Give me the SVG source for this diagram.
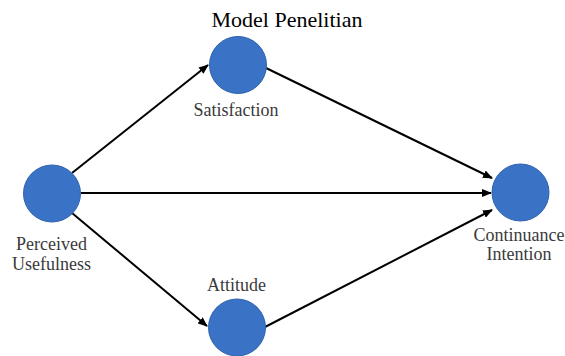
<svg xmlns="http://www.w3.org/2000/svg" width="565" height="356" viewBox="0 0 565 356">
<style>
.node{fill:#3a73c6;stroke:#2f63ad;stroke-width:1}
text{font-family:"Liberation Serif","DejaVu Serif",serif}
.lbl{font-size:18px;fill:#3a3a3a;text-anchor:middle}
.title{font-size:22px;fill:#000;text-anchor:middle}
.edge{stroke:#000;stroke-width:2;fill:none;marker-end:url(#ah)}
</style>
<defs>
<marker id="ah" markerWidth="10" markerHeight="8" refX="9" refY="4" orient="auto" markerUnits="userSpaceOnUse">
<path d="M0,0 L10,4 L0,8 Z" fill="#000"/>
</marker>
</defs>
<rect width="565" height="356" fill="#fff"/>
<text class="title" x="287" y="27">Model Penelitian</text>
<g id="connectors">
<line class="edge" x1="72" y1="173" x2="208" y2="65"/>
<line class="edge" x1="266" y1="68" x2="492" y2="178"/>
<line class="edge" x1="81" y1="193" x2="491" y2="193"/>
<line class="edge" x1="72" y1="213" x2="207" y2="326"/>
<line class="edge" x1="265" y1="327" x2="492" y2="210"/>
</g>
<g id="perceived-usefulness">
<circle class="node" cx="52" cy="193.5" r="28.5"/>
<text class="lbl" x="51.5" y="250">Perceived</text>
<text class="lbl" x="51.5" y="269.5">Usefulness</text>
</g>
<g id="satisfaction">
<circle class="node" cx="238" cy="65" r="28.5"/>
<text class="lbl" x="236" y="115.5">Satisfaction</text>
</g>
<g id="attitude">
<circle class="node" cx="237" cy="327.5" r="28.5"/>
<text class="lbl" x="236.5" y="290.5">Attitude</text>
</g>
<g id="continuance-intention">
<circle class="node" cx="520.5" cy="192.5" r="28.5"/>
<text class="lbl" x="519" y="240.5">Continuance</text>
<text class="lbl" x="519" y="260">Intention</text>
</g>
</svg>
